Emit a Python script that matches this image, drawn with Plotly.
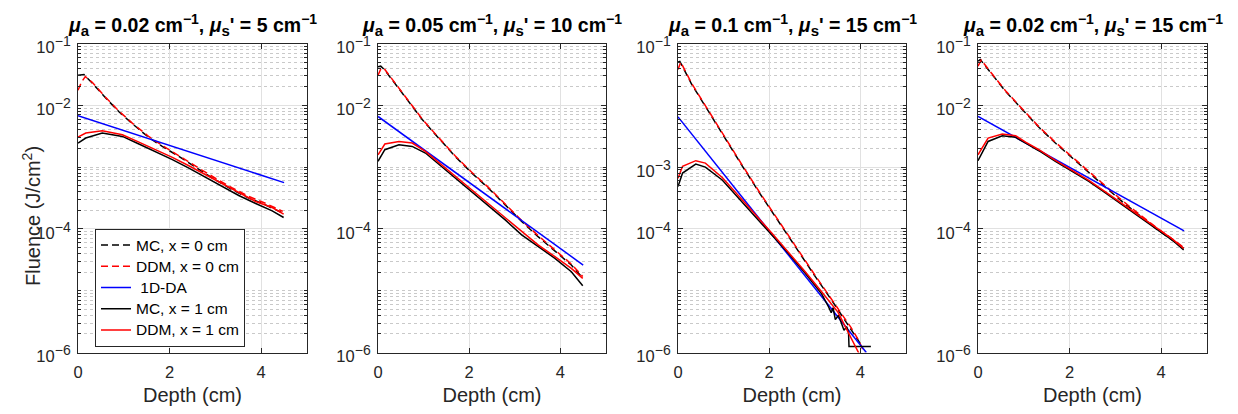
import math
import plotly.graph_objects as go

# ---------------- data ----------------
titles = [
    ("0.02", "5"),
    ("0.05", "10"),
    ("0.1", "15"),
    ("0.02", "15"),
]
legend_names = ["MC, x = 0 cm", "DDM, x = 0 cm", "\u00a01D-DA", "MC, x = 1 cm", "DDM, x = 1 cm"]
x_ticks = [0, 2, 4]
y_ticks_std = [1e-6, 1e-4, 1e-2, 1e-1]
y_ticks_p3 = [1e-6, 1e-4, 1e-3, 1e-1]

# Panel 1: mua = 0.02, mus' = 5
p1_mc0_d = [0, 0.13, 0.31, 0.6, 0.9, 1.19, 1.55, 1.84, 2.2, 2.64, 3.0, 3.37, 3.73, 4.09, 4.47]
p1_mc0_v = [0.0306, 0.0314, 0.023, 0.0132, 7.8e-3, 5.0e-3, 3.0e-3, 2.16e-3, 1.49e-3, 9.1e-4, 6.2e-4, 4.3e-4, 3.15e-4, 2.45e-4, 1.8e-4]
p1_ddm0_d = [0, 0.08, 0.16, 0.31, 0.6, 0.9, 1.19, 1.55, 1.84, 2.2, 2.64, 3.0, 3.37, 3.73, 4.09, 4.47]
p1_ddm0_v = [0.0175, 0.024, 0.0292, 0.0235, 0.0135, 8.0e-3, 5.1e-3, 3.1e-3, 2.24e-3, 1.55e-3, 9.6e-4, 6.6e-4, 4.6e-4, 3.35e-4, 2.6e-4, 1.92e-4]
p1_da_d = [0, 4.5]
p1_da_v = [6.8e-3, 5.6e-4]
p1_mc1_d = [0, 0.17, 0.53, 0.97, 1.33, 1.69, 2.06, 2.42, 2.79, 3.15, 3.51, 3.88, 4.24, 4.49]
p1_mc1_v = [2.45e-3, 2.95e-3, 3.56e-3, 3.14e-3, 2.36e-3, 1.79e-3, 1.32e-3, 9.6e-4, 6.8e-4, 4.85e-4, 3.47e-4, 2.58e-4, 1.96e-4, 1.53e-4]
p1_ddm1_d = [0, 0.17, 0.53, 0.97, 1.33, 1.69, 2.06, 2.42, 2.79, 3.15, 3.51, 3.88, 4.24, 4.49]
p1_ddm1_v = [3.06e-3, 3.56e-3, 3.88e-3, 3.34e-3, 2.54e-3, 1.91e-3, 1.44e-3, 1.05e-3, 7.5e-4, 5.4e-4, 3.8e-4, 2.77e-4, 2.22e-4, 1.73e-4]

# Panel 2: mua = 0.05, mus' = 10
p2_mc0_d = [0, 0.06, 0.15, 0.31, 0.6, 0.97, 1.33, 1.69, 2.06, 2.42, 2.79, 3.15, 3.51, 3.88, 4.24, 4.49]
p2_mc0_v = [0.042, 0.043, 0.037, 0.026, 0.0132, 5.9e-3, 2.95e-3, 1.49e-3, 8.0e-4, 4.57e-4, 2.45e-4, 1.32e-4, 7.5e-5, 4.4e-5, 2.6e-5, 1.6e-5]
p2_ddm0_d = [0, 0.07, 0.15, 0.31, 0.6, 0.97, 1.33, 1.69, 2.06, 2.42, 2.79, 3.15, 3.51, 3.88, 4.24, 4.49]
p2_ddm0_v = [0.0306, 0.040, 0.038, 0.0265, 0.0135, 6.0e-3, 3.0e-3, 1.53e-3, 8.2e-4, 4.7e-4, 2.52e-4, 1.37e-4, 7.8e-5, 4.6e-5, 2.7e-5, 1.7e-5]
p2_da_d = [0, 4.5]
p2_da_v = [6.6e-3, 2.6e-5]
p2_mc1_d = [0, 0.15, 0.46, 0.75, 1.04, 1.33, 1.69, 2.06, 2.42, 2.79, 3.15, 3.51, 3.88, 4.24, 4.49]
p2_mc1_v = [1.24e-3, 1.91e-3, 2.3e-3, 2.16e-3, 1.69e-3, 1.12e-3, 6.6e-4, 4.0e-4, 2.36e-4, 1.4e-4, 8.0e-5, 5.2e-5, 3.34e-5, 2.03e-5, 1.2e-5]
p2_ddm1_d = [0, 0.15, 0.46, 0.75, 1.04, 1.33, 1.69, 2.06, 2.42, 2.79, 3.15, 3.51, 3.88, 4.24, 4.49]
p2_ddm1_v = [1.58e-3, 2.36e-3, 2.6e-3, 2.45e-3, 1.8e-3, 1.2e-3, 7.2e-4, 4.3e-4, 2.54e-4, 1.53e-4, 9.1e-5, 5.5e-5, 3.56e-5, 2.3e-5, 1.58e-5]

# Panel 3: mua = 0.1, mus' = 15
p3_mc0_d = [0, 0.04, 0.3, 0.6, 1.0, 1.4, 1.8, 2.2, 2.6, 3.0, 3.4, 3.8, 3.95, 4.05]
p3_mc0_v = [0.050, 0.0513, 0.0219, 9.5e-3, 3.16e-3, 1.07e-3, 3.7e-4, 1.32e-4, 4.8e-5, 1.74e-5, 6.5e-6, 2.4e-6, 1.58e-6, 1.2e-6]
p3_ddm0_d = [0, 0.06, 0.3, 0.6, 1.0, 1.4, 1.8, 2.2, 2.6, 3.0, 3.4, 3.8, 3.95, 4.1]
p3_ddm0_v = [0.038, 0.050, 0.0225, 9.8e-3, 3.25e-3, 1.1e-3, 3.8e-4, 1.36e-4, 4.95e-5, 1.8e-5, 6.7e-6, 2.5e-6, 1.62e-6, 9.5e-7]
p3_da_d = [0, 4.13]
p3_da_v = [6.5e-3, 1.0e-6]
p3_mc1_d = [0, 0.1, 0.39, 0.6, 0.97, 1.33, 1.69, 2.06, 2.42, 2.79, 3.15, 3.30, 3.36, 3.40, 3.45, 3.52, 3.58, 3.64, 3.70, 3.74, 3.75, 4.23]
p3_mc1_v = [4.85e-4, 8.0e-4, 1.12e-3, 1.0e-3, 6.2e-4, 3.14e-4, 1.58e-4, 8.0e-5, 4.03e-5, 1.91e-5, 8.9e-6, 5.5e-6, 4.4e-6, 5.3e-6, 3.4e-6, 4.0e-6, 2.9e-6, 2.3e-6, 2.6e-6, 2.1e-6, 1.25e-6, 1.25e-6]
p3_ddm1_d = [0, 0.1, 0.39, 0.6, 0.97, 1.33, 1.69, 2.06, 2.42, 2.79, 3.15, 3.51, 3.97]
p3_ddm1_v = [6.6e-4, 1.03e-3, 1.27e-3, 1.16e-3, 6.8e-4, 3.48e-4, 1.73e-4, 8.5e-5, 4.2e-5, 2.03e-5, 9.6e-6, 4.46e-6, 9.6e-7]

# Panel 4: mua = 0.02, mus' = 15
p4_mc0_d = [0, 0.05, 0.31, 0.6, 0.97, 1.33, 1.69, 2.06, 2.42, 2.79, 3.15, 3.51, 3.88, 4.24, 4.49]
p4_mc0_v = [0.0518, 0.055, 0.0314, 0.0169, 8.5e-3, 4.4e-3, 2.45e-3, 1.4e-3, 8.0e-4, 4.68e-4, 2.77e-4, 1.69e-4, 1.02e-4, 6.6e-5, 4.85e-5]
p4_ddm0_d = [0, 0.07, 0.31, 0.6, 0.97, 1.33, 1.69, 2.06, 2.42, 2.79, 3.15, 3.51, 3.88, 4.24, 4.49]
p4_ddm0_v = [0.043, 0.054, 0.032, 0.0172, 8.7e-3, 4.5e-3, 2.52e-3, 1.45e-3, 8.3e-4, 4.85e-4, 2.87e-4, 1.76e-4, 1.07e-4, 6.9e-5, 5.0e-5]
p4_da_d = [0, 4.5]
p4_da_v = [6.6e-3, 9.3e-5]
p4_mc1_d = [0, 0.22, 0.53, 0.82, 1.04, 1.33, 1.69, 2.06, 2.42, 2.79, 3.15, 3.51, 3.88, 4.24, 4.49]
p4_mc1_v = [1.27e-3, 2.6e-3, 3.22e-3, 3.03e-3, 2.45e-3, 1.84e-3, 1.24e-3, 8.5e-4, 5.86e-4, 3.79e-4, 2.45e-4, 1.58e-4, 1.02e-4, 6.6e-5, 4.56e-5]
p4_ddm1_d = [0, 0.22, 0.53, 0.82, 1.04, 1.33, 1.69, 2.06, 2.42, 2.79, 3.15, 3.51, 3.88, 4.24, 4.49]
p4_ddm1_v = [1.58e-3, 2.95e-3, 3.43e-3, 3.22e-3, 2.54e-3, 1.91e-3, 1.28e-3, 8.8e-4, 6.1e-4, 3.94e-4, 2.54e-4, 1.64e-4, 1.06e-4, 6.9e-5, 4.85e-5]

# ---------------- figure ----------------
W, H = 1238, 414
FONT = "Arial, Liberation Sans, sans-serif"
AX = "#262626"

panels = [
    [(p1_mc0_d, p1_mc0_v), (p1_ddm0_d, p1_ddm0_v), (p1_da_d, p1_da_v), (p1_mc1_d, p1_mc1_v), (p1_ddm1_d, p1_ddm1_v)],
    [(p2_mc0_d, p2_mc0_v), (p2_ddm0_d, p2_ddm0_v), (p2_da_d, p2_da_v), (p2_mc1_d, p2_mc1_v), (p2_ddm1_d, p2_ddm1_v)],
    [(p3_mc0_d, p3_mc0_v), (p3_ddm0_d, p3_ddm0_v), (p3_da_d, p3_da_v), (p3_mc1_d, p3_mc1_v), (p3_ddm1_d, p3_ddm1_v)],
    [(p4_mc0_d, p4_mc0_v), (p4_ddm0_d, p4_ddm0_v), (p4_da_d, p4_da_v), (p4_mc1_d, p4_mc1_v), (p4_ddm1_d, p4_ddm1_v)],
]
LW = 1.5
styles = [
    dict(color="#000000", width=LW, dash="7px,4px"),
    dict(color="#ff0000", width=LW, dash="7px,4px"),
    dict(color="#0000ff", width=LW),
    dict(color="#000000", width=LW),
    dict(color="#ff0000", width=LW),
]

x_px = [(78, 307), (378, 606), (678, 906), (978, 1207)]
y_top_px, y_bot_px = 43.5, 352.5
ydom = [1 - y_bot_px / H, 1 - y_top_px / H]


def sup(s, size):
    return "<sup><span style='font-size:%dpx'>%s</span></sup>" % (size, s)


def sub(s, size):
    return "<sub><span style='font-size:%dpx'>%s</span></sub>" % (size, s)


fig = go.Figure()
for i, series in enumerate(panels):
    k = "" if i == 0 else str(i + 1)
    for j, (d, v) in enumerate(series):
        fig.add_trace(go.Scatter(
            x=d, y=v, mode="lines", line=styles[j],
            name="<span style='font-size:15.5px'>%s</span>" % legend_names[j],
            showlegend=(i == 0), xaxis="x" + k, yaxis="y" + k,
        ))

layout = dict(
    width=W, height=H, margin=dict(l=0, r=0, t=0, b=0, pad=0, autoexpand=False),
    paper_bgcolor="white", plot_bgcolor="white",
    font=dict(family=FONT, size=16, color=AX),
    legend=dict(
        x=95 / W, y=1 - 228.5 / H, xanchor="left", yanchor="top",
        bgcolor="white", bordercolor=AX, borderwidth=1,
        font=dict(family=FONT, size=14, color="#000000"),
        itemwidth=30, tracegroupgap=0,
    ),
    annotations=[],
)

for i in range(4):
    k = "" if i == 0 else str(i + 1)
    x0, x1 = x_px[i]
    yt = y_ticks_p3 if i == 2 else y_ticks_std
    labeled = set(round(math.log10(t)) for t in yt)
    minor_vals = [m * 10.0 ** e for e in range(-6, -1) for m in range(2, 10)]
    minor_vals += [10.0 ** e for e in range(-6, 0) if e not in labeled]
    layout["xaxis" + k] = dict(
        domain=[x0 / W, x1 / W], anchor="y" + k, range=[0, 5],
        tickmode="array", tickvals=x_ticks, ticktext=[str(t) for t in x_ticks],
        ticks="inside", ticklen=5, tickcolor=AX, tickwidth=1,
        showline=True, linecolor=AX, linewidth=1, mirror="ticks",
        showgrid=True, gridcolor="#e1e1e1", gridwidth=1, zeroline=False,
        tickfont=dict(size=16.5, color=AX), ticklabelstandoff=5,
        title=dict(text="Depth (cm)", font=dict(size=20, color=AX), standoff=7),
    )
    layout["yaxis" + k] = dict(
        domain=ydom, anchor="x" + k, type="log", range=[-6, -1],
        tickmode="array", tickvals=yt,
        ticktext=["10" + sup("\u2212%d" % -round(math.log10(t)), 14) for t in yt],
        ticks="inside", ticklen=5, tickcolor=AX, tickwidth=1,
        showline=True, linecolor=AX, linewidth=1, mirror="ticks",
        showgrid=True, gridcolor="#e1e1e1", gridwidth=1, zeroline=False,
        tickfont=dict(size=16.5, color=AX), ticklabelstandoff=3, ticklabelshift=4,
        minor=dict(tickmode="array", tickvals=minor_vals, showgrid=True,
                   gridcolor="#c9c9c9", griddash="dot", gridwidth=1,
                   ticks="inside", ticklen=3, tickcolor=AX),
    )
    ma, ms = titles[i]
    layout["annotations"].append(dict(
        xref="paper", yref="paper", x=(x0 + x1) / 2 / W, y=1 - 25 / H,
        xanchor="center", yanchor="middle", showarrow=False,
        text="<b><i>μ</i>" + sub("a", 15) + " = %s cm" % ma + sup("\u22121", 14)
             + ", <i>μ</i>" + sub("s", 15) + "' = %s cm" % ms + sup("\u22121", 14) + "</b>",
        font=dict(family=FONT, size=19.5, color="#000000"),
    ))

# y-axis label of the first panel (placed close to the tick labels as in the reference)
layout["annotations"].append(dict(
    xref="paper", yref="paper", x=31 / W, y=1 - 216 / H,
    xanchor="center", yanchor="middle", showarrow=False, textangle=-90,
    text="Fluence (J/cm" + sup("2", 14) + ")",
    font=dict(family=FONT, size=20, color=AX),
))

fig.update_layout(**layout)
fig.write_html(
    "out.html",
    config={"displayModeBar": False},
    post_script="document.body.style.margin='0px';document.body.style.padding='0px';",
)
